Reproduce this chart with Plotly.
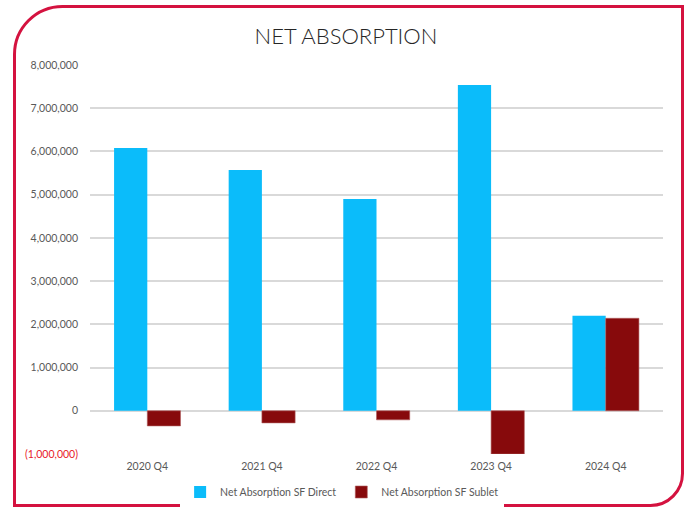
import plotly.graph_objects as go

categories = ["2020 Q4", "2021 Q4", "2022 Q4", "2023 Q4", "2024 Q4"]
direct = [6080000, 5570000, 4900000, 7540000, 2200000]
sublet = [-350000, -280000, -210000, -1000000, 2140000]
tick_vals = [-1000000, 0, 1000000, 2000000, 3000000, 4000000, 5000000, 6000000, 7000000, 8000000]
tick_text = ["<span style='color:#e8202a'>(1,000,000)</span>", "0", "1,000,000", "2,000,000",
             "3,000,000", "4,000,000", "5,000,000", "6,000,000", "7,000,000", "8,000,000"]

W, H = 688, 508
ML, MR, MT, MB = 90, 25, 65, 54
PW, PH = W - ML - MR, H - MT - MB


def px(x):
    return (x - ML) / PW


def py(y):
    return (H - MB - y) / PH


fig = go.Figure()
fig.add_trace(go.Bar(x=categories, y=direct, name="Net Absorption SF Direct",
                     marker=dict(color="#0bbcfa", line=dict(width=0))))
fig.add_trace(go.Bar(x=categories, y=sublet, name="Net Absorption SF Sublet",
                     marker=dict(color="#870a0c", line=dict(width=0.6, color="#b06060"))))

# rounded border (pixel coords converted to paper)
L, R, T, B = 14.5, 682.5, 6.5, 505.5
r1, r2 = 48, 32
k = 0.5523


def P(x, y):
    return f"{px(x):.5f},{py(y):.5f}"


path = (f"M {P(L + r1, T)} L {P(R, T)} L {P(R, B - r2)} "
        f"C {P(R, B - r2 + k * r2)} {P(R - r2 + k * r2, B)} {P(R - r2, B)} "
        f"L {P(L, B)} L {P(L, T + r1)} "
        f"C {P(L, T + r1 - k * r1)} {P(L + r1 - k * r1, T)} {P(L + r1, T)} Z")
fig.add_shape(type="path", path=path, xref="paper", yref="paper",
              line=dict(color="#d4123f", width=3), layer="above")

fig.update_layout(
    width=W, height=H,
    margin=dict(l=ML, r=MR, t=MT, b=MB, autoexpand=False),
    paper_bgcolor="white", plot_bgcolor="white",
    font=dict(family="Lato, Open Sans, sans-serif", color="#595959", size=10),
    title=dict(text="NET ABSORPTION", x=346 / W, xref="container", xanchor="center",
               y=1 - 36 / H, yanchor="middle", yref="container",
               font=dict(family="Lato, sans-serif", size=22, color="#262626", weight=300)),
    barmode="group", bargap=0.42, bargroupgap=0,
    showlegend=True,
    legend=dict(orientation="h", x=0.44, xanchor="center", y=py(492), yanchor="middle",
                font=dict(size=10.5, color="#595959"), itemwidth=30, traceorder="normal"),
    yaxis=dict(range=[-1000000, 8000000], tickvals=tick_vals, ticktext=tick_text,
               showgrid=True, gridcolor="#d9d9d9", gridwidth=1.5,
               zeroline=True, zerolinecolor="#d9d9d9", zerolinewidth=1.5,
               showline=False, ticks="", ticklabelstandoff=11,
               tickfont=dict(size=10.5, color="#595959")),
    xaxis=dict(showgrid=False, showline=False, ticks="", ticklabelstandoff=4,
               tickfont=dict(size=10.5, color="#595959")),
)

fig.write_html("out.html", config={"displayModeBar": False},
               post_script="document.body.style.margin='0';document.body.style.overflow='hidden';")
